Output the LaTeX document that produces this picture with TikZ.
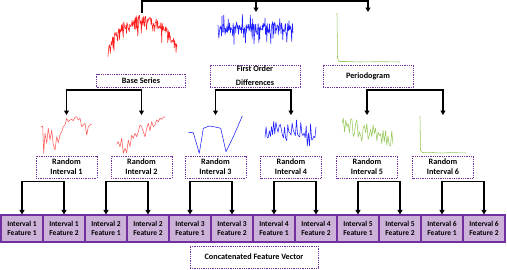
\documentclass[tikz,border=0pt]{standalone}
\usepackage{fontspec}
\setmainfont{Carlito}
\usetikzlibrary{arrows.meta}
\definecolor{vio}{RGB}{112,48,160}
\definecolor{lilac}{RGB}{204,178,216}
\definecolor{sred}{RGB}{255,30,30}
\definecolor{lred}{RGB}{255,90,90}
\definecolor{sblue}{RGB}{30,30,255}
\definecolor{sgreen}{RGB}{150,200,90}
\tikzset{
  dotbox/.style={draw=vio, line width=0.9pt, dash pattern=on 0.9pt off 0.9pt, minimum width=61pt, minimum height=22pt, inner sep=0pt, font=\fontsize{8.2}{10}\selectfont\bfseries, align=center},
  featbox/.style={draw=vio, line width=1.1pt, fill=lilac, minimum width=42pt, minimum height=27pt, inner sep=0pt, font=\fontsize{7.5}{9.5}\selectfont\bfseries, align=center},
  conn/.style={line width=1.4pt, black},
  arr/.style={conn, -{Triangle[length=4.5pt,width=5pt]}},
  arrs/.style={conn, {Triangle[length=4.5pt,width=5pt]}-{Triangle[length=4.5pt,width=5pt]}},
  sig/.style={line width=0.55pt, line join=round},
}
\begin{document}
\begin{tikzpicture}[x=1pt,y=-1pt]
\useasboundingbox (0,0) rectangle (507,269);
\pgfmathsetseed{12}
% ---- top level series ----
\draw[sig, sred] plot[samples=150, domain=108:177] (\x, {50 - 31*pow(sin(180*(\x-108)/69),0.6) + 4*rand + 14*pow(rnd,5)});
\draw[sig, sblue] plot[samples=170, domain=218:293] (\x, {29 + 6*rand + 18*pow(rnd,9) - 13*pow(rnd,9)});
\draw[sig, sgreen] (337,13) -- (337.5,58) -- (339,61.5) -- (346,61.5) -- (360,62) -- (380,61.6) -- (400,62);
% ---- top boxes ----
\node[dotbox, minimum width=89pt, minimum height=13pt] (bs) at (141,80.5) {Base Series};
\node[dotbox, minimum width=90pt, font=\fontsize{8.2}{12}\selectfont\bfseries] (fod) at (255,76) {First Order\\[-1pt]\raisebox{-3pt}{Differences}};
\node[dotbox, minimum width=90pt] (per) at (368,76) {Periodogram};
% ---- top connector ----
\coordinate (t1) at (142,13);
\coordinate (t2) at (256,12);
\coordinate (t3) at (368,12);
\coordinate (tl) at (142,1);
\draw[arr] (t1) -- (tl) -| (t3);
\draw[arr] (tl -| t2) -- (t2);
% ---- random interval charts ----
\draw[sig, lred] plot coordinates {(41,126.7)(42.7,126)(43.7,153.3)(45,133.3)(46.7,143.3)(48.3,128.3)(50,140)(51.7,130)(53.3,145)(55,150)(56.7,136.7)(58.3,142.7)(60,135)(61.7,131.7)(63.3,126.7)(65,125)(66.7,118.3)(68.3,121.7)(70,120)(71.7,119.3)(73.3,120.7)(75,117.3)(76.7,116.7)(78.3,120)(80,118.3)(81.7,126.7)(83.3,125)(85,123.3)(86.7,135)(88.3,126.7)(90,125)(91.7,124)};
\draw[sig, lred] plot coordinates {(116.7,144.3)(118.3,141.7)(120,146.7)(121.7,138.3)(123.3,153.3)(125,148.3)(126.7,152.7)(128.3,140)(130,146.7)(131.7,135)(133.3,138.3)(135,133.3)(136.7,136.7)(138.3,131.7)(140,125)(141.7,126.7)(143.3,131.7)(145,136.7)(146.7,128.3)(148.3,123.3)(150,130.7)(151.7,121.7)(153.3,126.7)(155,125)(156.7,120)(158.3,121.7)(160,118.3)(161.7,119.3)(163.3,117.3)(165,116.7)};
\draw[sig, sblue] plot coordinates {(188.3,132.3)(193.3,132.7)(199.3,153.3)(203.3,128.3)(209.3,126)(216.7,127.3)(220.7,128.3)(226,151.7)(233.3,136.7)(242.3,116)};
\draw[sig, sblue] plot[samples=48, domain=265:316] (\x, {131 + 7*rand + 14*pow(rnd,6) - 8*pow(rnd,6)});
\draw[sig, sgreen] plot[samples=42, domain=342:393] (\x, {124 + 14*(\x-342)/51 + 9*rand + 10*pow(rnd,6)});
\draw[sig, sgreen] (420,116) -- (420.5,150) -- (422.5,152.5) -- (430,152.3) -- (440,153) -- (452,152.6) -- (466,153);
% ---- random interval boxes ----
\foreach \i/\cx in {1/66.5,2/141.5,3/215.5,4/291,5/367,6/443}{
  \node[dotbox] (ri\i) at (\cx,167) {Random\\Interval \i};
  \coordinate (c\i) at (\cx,115);
}
% ---- second level connectors ----
\draw[arrs] (c1) -- ++(0,-25) -| (c2);
\draw[arrs] (c3) -- ++(0,-25) -| (c4);
\draw[arrs] (c5) -- ++(0,-25) -| (c6);
% ---- feature boxes ----
\foreach \i in {1,...,6}{
  \pgfmathsetmacro{\xa}{1+21+84*(\i-1)}
  \pgfmathsetmacro{\xb}{1+63+84*(\i-1)}
  \node[featbox] (f\i a) at (\xa,228.5) {Interval \i\\Feature 1};
  \node[featbox] (f\i b) at (\xb,228.5) {Interval \i\\Feature 2};
  \draw[arrs] (f\i a.north) -- ++(0,-33) -| (f\i b.north);
}
% ---- concatenated ----
\node[dotbox, minimum width=128pt, font=\fontsize{8.2}{10}\selectfont\bfseries] (cfv) at (254,257) {Concatenated Feature Vector};
\end{tikzpicture}
\end{document}
